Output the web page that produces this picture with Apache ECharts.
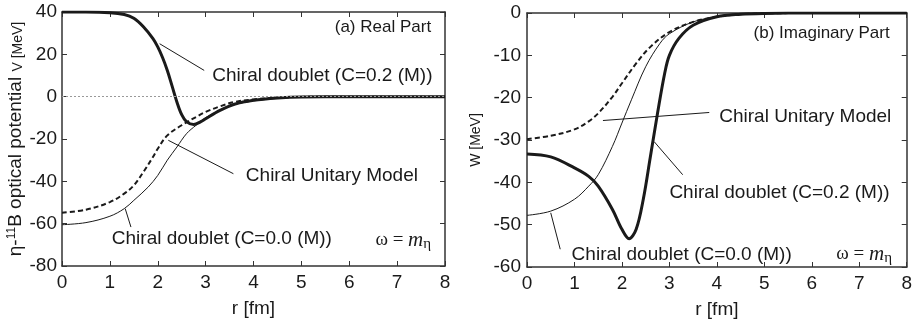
<!DOCTYPE html>
<html>
<head>
<meta charset="utf-8">
<script src="https://cdn.jsdelivr.net/npm/echarts@6/dist/echarts.min.js"></script>
<style>
  html, body { margin: 0; padding: 0; background: #fff; }
  #chart { width: 915px; height: 325px; }
</style>
</head>
<body>
<div id="chart"></div>
<script>
// 读图估计的数据 (r [fm], MeV)
// (a) 实部
var realC02R = [0, 0.5, 1.0, 1.3, 1.5, 1.7, 1.9, 2.0, 2.1, 2.2, 2.3, 2.4, 2.5, 2.6, 2.75, 2.9, 3.0, 3.3, 3.6, 4.0, 4.5, 5, 6, 7, 8];
var realC02V = [40, 40, 39.7, 38.8, 37, 33, 27.4, 23.5, 18.5, 12.4, 5, -2.5, -8.5, -11.8, -13.2, -11.8, -10.4, -6.5, -3.6, -1.7, -0.6, -0.1, 0, 0, 0];
var realCumR = [0, 0.5, 1.0, 1.3, 1.5, 1.7, 1.9, 2.0, 2.2, 2.5, 2.8, 3.0, 3.3, 3.6, 4.0, 4.5, 5, 6, 7, 8];
var realCumV = [-54.8, -53.4, -49.8, -45.8, -41.9, -35.6, -28.5, -24.6, -18.3, -13.5, -9.6, -7.2, -4.6, -2.5, -1.3, -0.5, -0.1, 0, 0, 0];
var realC00R = [0, 0.5, 1.0, 1.3, 1.5, 1.8, 2.0, 2.2, 2.4, 2.6, 2.8, 3.0, 3.3, 3.6, 4.0, 4.5, 5, 6, 7, 8];
var realC00V = [-60.5, -59.5, -56.5, -52.9, -49, -42.7, -37.2, -30, -23.8, -17.5, -13.5, -9.9, -6.5, -3.8, -2, -0.8, -0.2, 0, 0, 0];

// (b) 虚部
var imagC02R = [0, 0.5, 1.0, 1.3, 1.5, 1.8, 2.0, 2.15, 2.3, 2.45, 2.6, 2.75, 2.9, 3.0, 3.2, 3.5, 4.0, 4.5, 5, 6, 7, 8];
var imagC02V = [-33.3, -34, -36.6, -38.6, -40.9, -46.4, -51.1, -53.3, -51.1, -44, -33.9, -23.7, -14.3, -10, -6, -2.9, -0.9, -0.3, -0.1, 0, 0, 0];
var imagCumR = [0, 0.5, 1.0, 1.3, 1.5, 1.8, 2.0, 2.3, 2.6, 3.0, 3.5, 4, 4.5, 5, 6, 7, 8];
var imagCumV = [-29.8, -29, -27.5, -25.6, -23.7, -19.8, -16.6, -11.9, -8, -4.5, -2.1, -0.9, -0.3, -0.1, 0, 0, 0];
var imagC00R = [0, 0.5, 1.0, 1.3, 1.5, 1.8, 2.0, 2.2, 2.5, 2.8, 3.0, 3.5, 4, 4.5, 5, 6, 7, 8];
var imagC00V = [-47.8, -46.8, -44, -40.9, -38.2, -31.5, -26, -20.5, -12.7, -7.2, -4.9, -2.1, -0.9, -0.3, -0.1, 0, 0, 0];

var FONT = "'Liberation Sans', Arial, sans-serif";
var INK = '#1a1a1a';

function pairs(xs, ys) {
    return xs.map(function (x, i) { return [x, ys[i]]; });
}

// 坐标轴模板
function xAxisBottom(grid) {
    return {
        type: 'value', gridIndex: grid, min: 0, max: 8, interval: 1,
        name: 'r [fm]', nameLocation: 'middle', nameGap: 33,
        nameTextStyle: { fontFamily: FONT, fontSize: 19, color: INK },
        axisLine: { onZero: false, lineStyle: { color: '#333', width: 1.5 } },
        axisTick: { inside: true, length: 5, lineStyle: { color: '#333' } },
        axisLabel: { fontFamily: FONT, fontSize: 19, color: INK, margin: 7 },
        splitLine: { show: false }
    };
}
function xAxisTop(grid) {
    return {
        type: 'value', gridIndex: grid, min: 0, max: 8, interval: 1, position: 'top',
        axisLine: { onZero: false, lineStyle: { color: '#333', width: 1.5 } },
        axisTick: { inside: true, length: 5, lineStyle: { color: '#333' } },
        axisLabel: { show: false }, splitLine: { show: false }
    };
}
function yAxisRight(grid, min, max, step) {
    return {
        type: 'value', gridIndex: grid, min: min, max: max, interval: step, position: 'right',
        axisLine: { show: true, onZero: false, lineStyle: { color: '#333', width: 1.5 } },
        axisTick: { show: true, inside: true, length: 5, lineStyle: { color: '#333' } },
        axisLabel: { show: false }, splitLine: { show: false }
    };
}

var thick = { color: INK, width: 3 };
var thin = { color: INK, width: 1 };
var dashed = { color: INK, width: 2, type: [5, 3] };

function line(name, xi, yi, data, style) {
    return {
        name: name, type: 'line', xAxisIndex: xi, yAxisIndex: yi,
        data: data, smooth: 0.35, showSymbol: false,
        lineStyle: style, silent: true
    };
}

var option = {
    backgroundColor: '#fff',
    animation: false,
    grid: [
        { left: 62, right: 470, top: 12, bottom: 59 },
        { left: 527, right: 5, top: 13, bottom: 58 }
    ],
    xAxis: [xAxisBottom(0), xAxisTop(0), xAxisBottom(1), xAxisTop(1)],
    yAxis: [
        {
            type: 'value', gridIndex: 0, min: -80, max: 40, interval: 20,
            name: '{a|η-}{s|11}{a|B optical potential }{b|V [MeV]}',
            nameLocation: 'middle', nameGap: 34, nameRotate: 90,
            nameTextStyle: {
                rich: {
                    a: { fontFamily: FONT, fontSize: 19, color: INK },
                    s: { fontFamily: FONT, fontSize: 12, color: INK, verticalAlign: 'top', padding: [0, 0, 8, 0] },
                    b: { fontFamily: FONT, fontSize: 14, color: INK, padding: [4, 0, 0, 0] }
                }
            },
            axisLine: { show: true, onZero: false, lineStyle: { color: '#333', width: 1.5 } },
            axisTick: { show: true, inside: true, length: 5, lineStyle: { color: '#333' } },
            axisLabel: { fontFamily: FONT, fontSize: 19, color: INK, margin: 5 },
            splitLine: { show: false }
        },
        yAxisRight(0, -80, 40, 20),
        {
            type: 'value', gridIndex: 1, min: -60, max: 0, interval: 10,
            name: 'W [MeV]', nameLocation: 'middle', nameGap: 44, nameRotate: 90,
            nameTextStyle: { fontFamily: FONT, fontSize: 14, color: INK },
            axisLine: { show: true, onZero: false, lineStyle: { color: '#333', width: 1.5 } },
            axisTick: { show: true, inside: true, length: 5, lineStyle: { color: '#333' } },
            axisLabel: { fontFamily: FONT, fontSize: 19, color: INK, margin: 6 },
            splitLine: { show: false }
        },
        yAxisRight(1, -60, 0, 10)
    ],
    series: [
        Object.assign(line('Chiral Unitary Model (Re)', 0, 0, pairs(realCumR, realCumV), dashed), {
            markLine: {
                silent: true, symbol: 'none', label: { show: false },
                lineStyle: { color: '#999', width: 1, type: [2, 2] },
                data: [{ yAxis: 0 }]
            }
        }),
        line('Chiral doublet C=0.0 (Re)', 0, 0, pairs(realC00R, realC00V), thin),
        line('Chiral doublet C=0.2 (Re)', 0, 0, pairs(realC02R, realC02V), thick),
        line('Chiral Unitary Model (Im)', 2, 2, pairs(imagCumR, imagCumV), dashed),
        line('Chiral doublet C=0.0 (Im)', 2, 2, pairs(imagC00R, imagC00V), thin),
        line('Chiral doublet C=0.2 (Im)', 2, 2, pairs(imagC02R, imagC02V), thick)
    ]
};

var myChart = echarts.init(document.getElementById('chart'));
myChart.setOption(option);

// 注释文字与引线 (数据坐标)
var notes = [
    { grid: 0, x: 7.71, y: 32.9, text: '(a) Real Part', align: 'right', size: 17 },
    { grid: 0, x: 3.14, y: 10.1, text: 'Chiral doublet (C=0.2 (M))', align: 'left', size: 19 },
    { grid: 0, x: 3.84, y: -37.2, text: 'Chiral Unitary Model', align: 'left', size: 19 },
    { grid: 0, x: 1.04, y: -67.1, text: 'Chiral doublet (C=0.0 (M))', align: 'left', size: 19 },
    { grid: 0, x: 7.71, y: -67.9, text: 'omega', align: 'right', size: 19 },
    { grid: 1, x: 7.64, y: -4.7, text: '(b) Imaginary Part', align: 'right', size: 17 },
    { grid: 1, x: 4.05, y: -24.5, text: 'Chiral Unitary Model', align: 'left', size: 19 },
    { grid: 1, x: 3.0, y: -42.5, text: 'Chiral doublet (C=0.2 (M))', align: 'left', size: 19 },
    { grid: 1, x: 0.94, y: -57, text: 'Chiral doublet (C=0.0 (M))', align: 'left', size: 19 },
    { grid: 1, x: 7.69, y: -57, text: 'omega', align: 'right', size: 19 }
];
var leaders = [
    { grid: 0, from: [2.04, 25], to: [2.97, 12.4] },
    { grid: 0, from: [2.22, -20.6], to: [3.58, -36.4] },
    { grid: 0, from: [1.32, -52.9], to: [1.44, -61.6] },
    { grid: 1, from: [1.6, -25.4], to: [3.84, -23.5] },
    { grid: 1, from: [2.68, -30.4], to: [3.28, -38.2] },
    { grid: 1, from: [0.5, -47.2], to: [0.7, -55.8] }
];

var graphics = [];
leaders.forEach(function (l) {
    var p1 = myChart.convertToPixel({ gridIndex: l.grid }, l.from);
    var p2 = myChart.convertToPixel({ gridIndex: l.grid }, l.to);
    graphics.push({
        type: 'line', silent: true,
        shape: { x1: p1[0], y1: p1[1], x2: p2[0], y2: p2[1] },
        style: { stroke: INK, lineWidth: 1 }
    });
});
notes.forEach(function (n) {
    var p = myChart.convertToPixel({ gridIndex: n.grid }, [n.x, n.y]);
    var style;
    if (n.text === 'omega') {
        style = {
            text: '{w|ω = }{m|m}{e|η}',
            align: n.align, verticalAlign: 'middle', fill: INK,
            rich: {
                w: { fontFamily: "'Liberation Serif', serif", fontSize: 19, fill: INK },
                m: { fontFamily: "'Liberation Serif', serif", fontStyle: 'italic', fontSize: 21, fill: INK },
                e: { fontFamily: "'Liberation Serif', serif", fontSize: 15, fill: INK, padding: [8, 0, 0, 0] }
            }
        };
    } else {
        style = {
            text: n.text, align: n.align, verticalAlign: 'middle',
            fontFamily: FONT, fontSize: n.size, fill: INK
        };
    }
    graphics.push({ type: 'text', silent: true, x: p[0], y: p[1], style: style });
});
myChart.setOption({ graphic: graphics });
</script>
</body>
</html>
